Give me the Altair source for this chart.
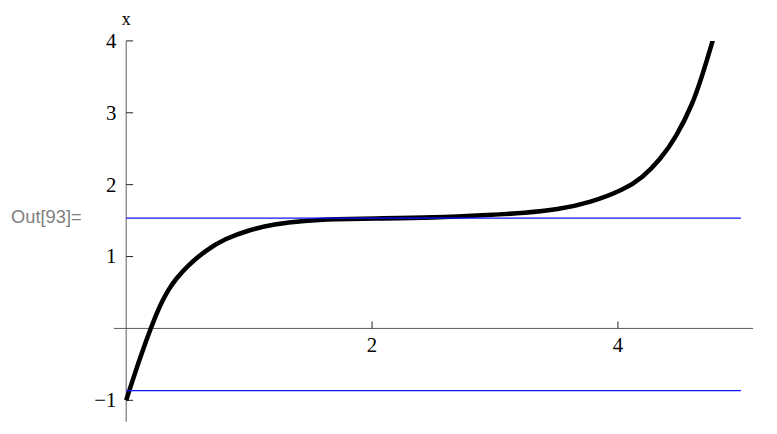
import altair as alt
import pandas as pd

# Solution curve x(t)
t_vals = [0.0, 0.05, 0.1, 0.15, 0.2, 0.25, 0.3, 0.35, 0.4, 0.5, 0.65, 0.8, 1.0,
          1.2, 1.45, 1.7, 2.0, 2.5, 2.97, 3.24, 3.507, 3.776, 4.05, 4.2, 4.34,
          4.473, 4.608, 4.688, 4.769, 4.79]
x_vals = [-1.0, -0.735, -0.475, -0.23, 0.0, 0.22, 0.405, 0.555, 0.68, 0.875, 1.09,
          1.245, 1.37, 1.45, 1.50, 1.52, 1.53, 1.54, 1.58, 1.606, 1.651, 1.75, 1.93,
          2.10, 2.34, 2.66, 3.12, 3.53, 3.99, 4.12]

# Equilibrium (horizontal) lines
equilibria = [1.535, -0.866]
eq_t_start = 0.0
eq_t_end = 5.0

# Axes extents and ticks
x_axis_range = [-0.1, 5.1]
y_axis_range = [-1.3, 4.0]
x_ticks = [2, 4]
x_tick_labels = ["2", "4"]
y_ticks = [-1, 1, 2, 3, 4]
y_tick_labels = ["\u22121", "1", "2", "3", "4"]

xs = alt.Scale(domain=x_axis_range, nice=False, zero=False)
ys = alt.Scale(domain=y_axis_range, nice=False, zero=False)

curve_df = pd.DataFrame({"t": t_vals, "v": x_vals})
eq_df = pd.DataFrame({"t": [eq_t_start] * len(equilibria),
                      "t2": [eq_t_end] * len(equilibria),
                      "v": equilibria})
axes_df = pd.DataFrame({"t": [x_axis_range[0], 0.0], "t2": [x_axis_range[1], 0.0],
                        "v": [0.0, y_axis_range[0]], "v2": [0.0, y_axis_range[1]]})
xt_df = pd.DataFrame({"t": x_ticks, "v": [0.0] * len(x_ticks),
                      "v2": [0.096] * len(x_ticks), "lab": x_tick_labels})
yt_df = pd.DataFrame({"t": [0.0] * len(y_ticks), "t2": [0.056] * len(y_ticks),
                      "v": y_ticks, "lab": y_tick_labels})

X = lambda f="t": alt.X(f"{f}:Q", scale=xs, axis=None)
Y = lambda f="v": alt.Y(f"{f}:Q", scale=ys, axis=None)

axes = alt.Chart(axes_df).mark_rule(color="#5a5a5a", strokeWidth=1).encode(
    x=X(), x2="t2:Q", y=Y(), y2="v2:Q")

xticks = alt.Chart(xt_df).mark_rule(color="#222222", strokeWidth=1).encode(
    x=X(), y=Y(), y2="v2:Q")
yticks = alt.Chart(yt_df).mark_rule(color="#222222", strokeWidth=1).encode(
    x=X(), x2="t2:Q", y=Y())

curve = alt.Chart(curve_df).mark_line(color="black", strokeWidth=4.6,
                                      interpolate="basis", clip=True).encode(
    x=X(), y=Y())

eq = alt.Chart(eq_df).mark_rule(color="#1010ff", strokeWidth=1.3).encode(
    x=X(), x2="t2:Q", y=Y())

xlab = alt.Chart(xt_df).mark_text(font="Liberation Serif", fontSize=21, dy=18,
                                  color="black").encode(
    x=X(), y=Y(), text="lab:N")
ylab = alt.Chart(yt_df).mark_text(font="Liberation Serif", fontSize=21, align="right",
                                  dx=-10, dy=1, color="black").encode(
    x=X(), y=Y(), text="lab:N")

title_df = pd.DataFrame({"t": [0.0], "v": [y_axis_range[1]], "lab": ["x"]})
ytitle = alt.Chart(title_df).mark_text(font="Liberation Serif", fontSize=18, dy=-21,
                                       color="black").encode(
    x=X(), y=Y(), text="lab:N")

out_df = pd.DataFrame({"lab": ["Out[93]="]})
outlab = alt.Chart(out_df).mark_text(font="Liberation Sans", fontSize=18.5, align="left",
                                     baseline="middle", color="#7f7f7f").encode(
    x=alt.value(-104), y=alt.value(178), text="lab:N")

chart = alt.layer(axes, xticks, yticks, curve, eq, xlab, ylab, ytitle, outlab).properties(
    width=646, height=385,
    padding={"left": 107, "top": 31, "right": 16, "bottom": 10},
    autosize="none",
).configure_view(stroke=None)

chart.save("out.html", embed_options={"renderer": "svg", "actions": False})
